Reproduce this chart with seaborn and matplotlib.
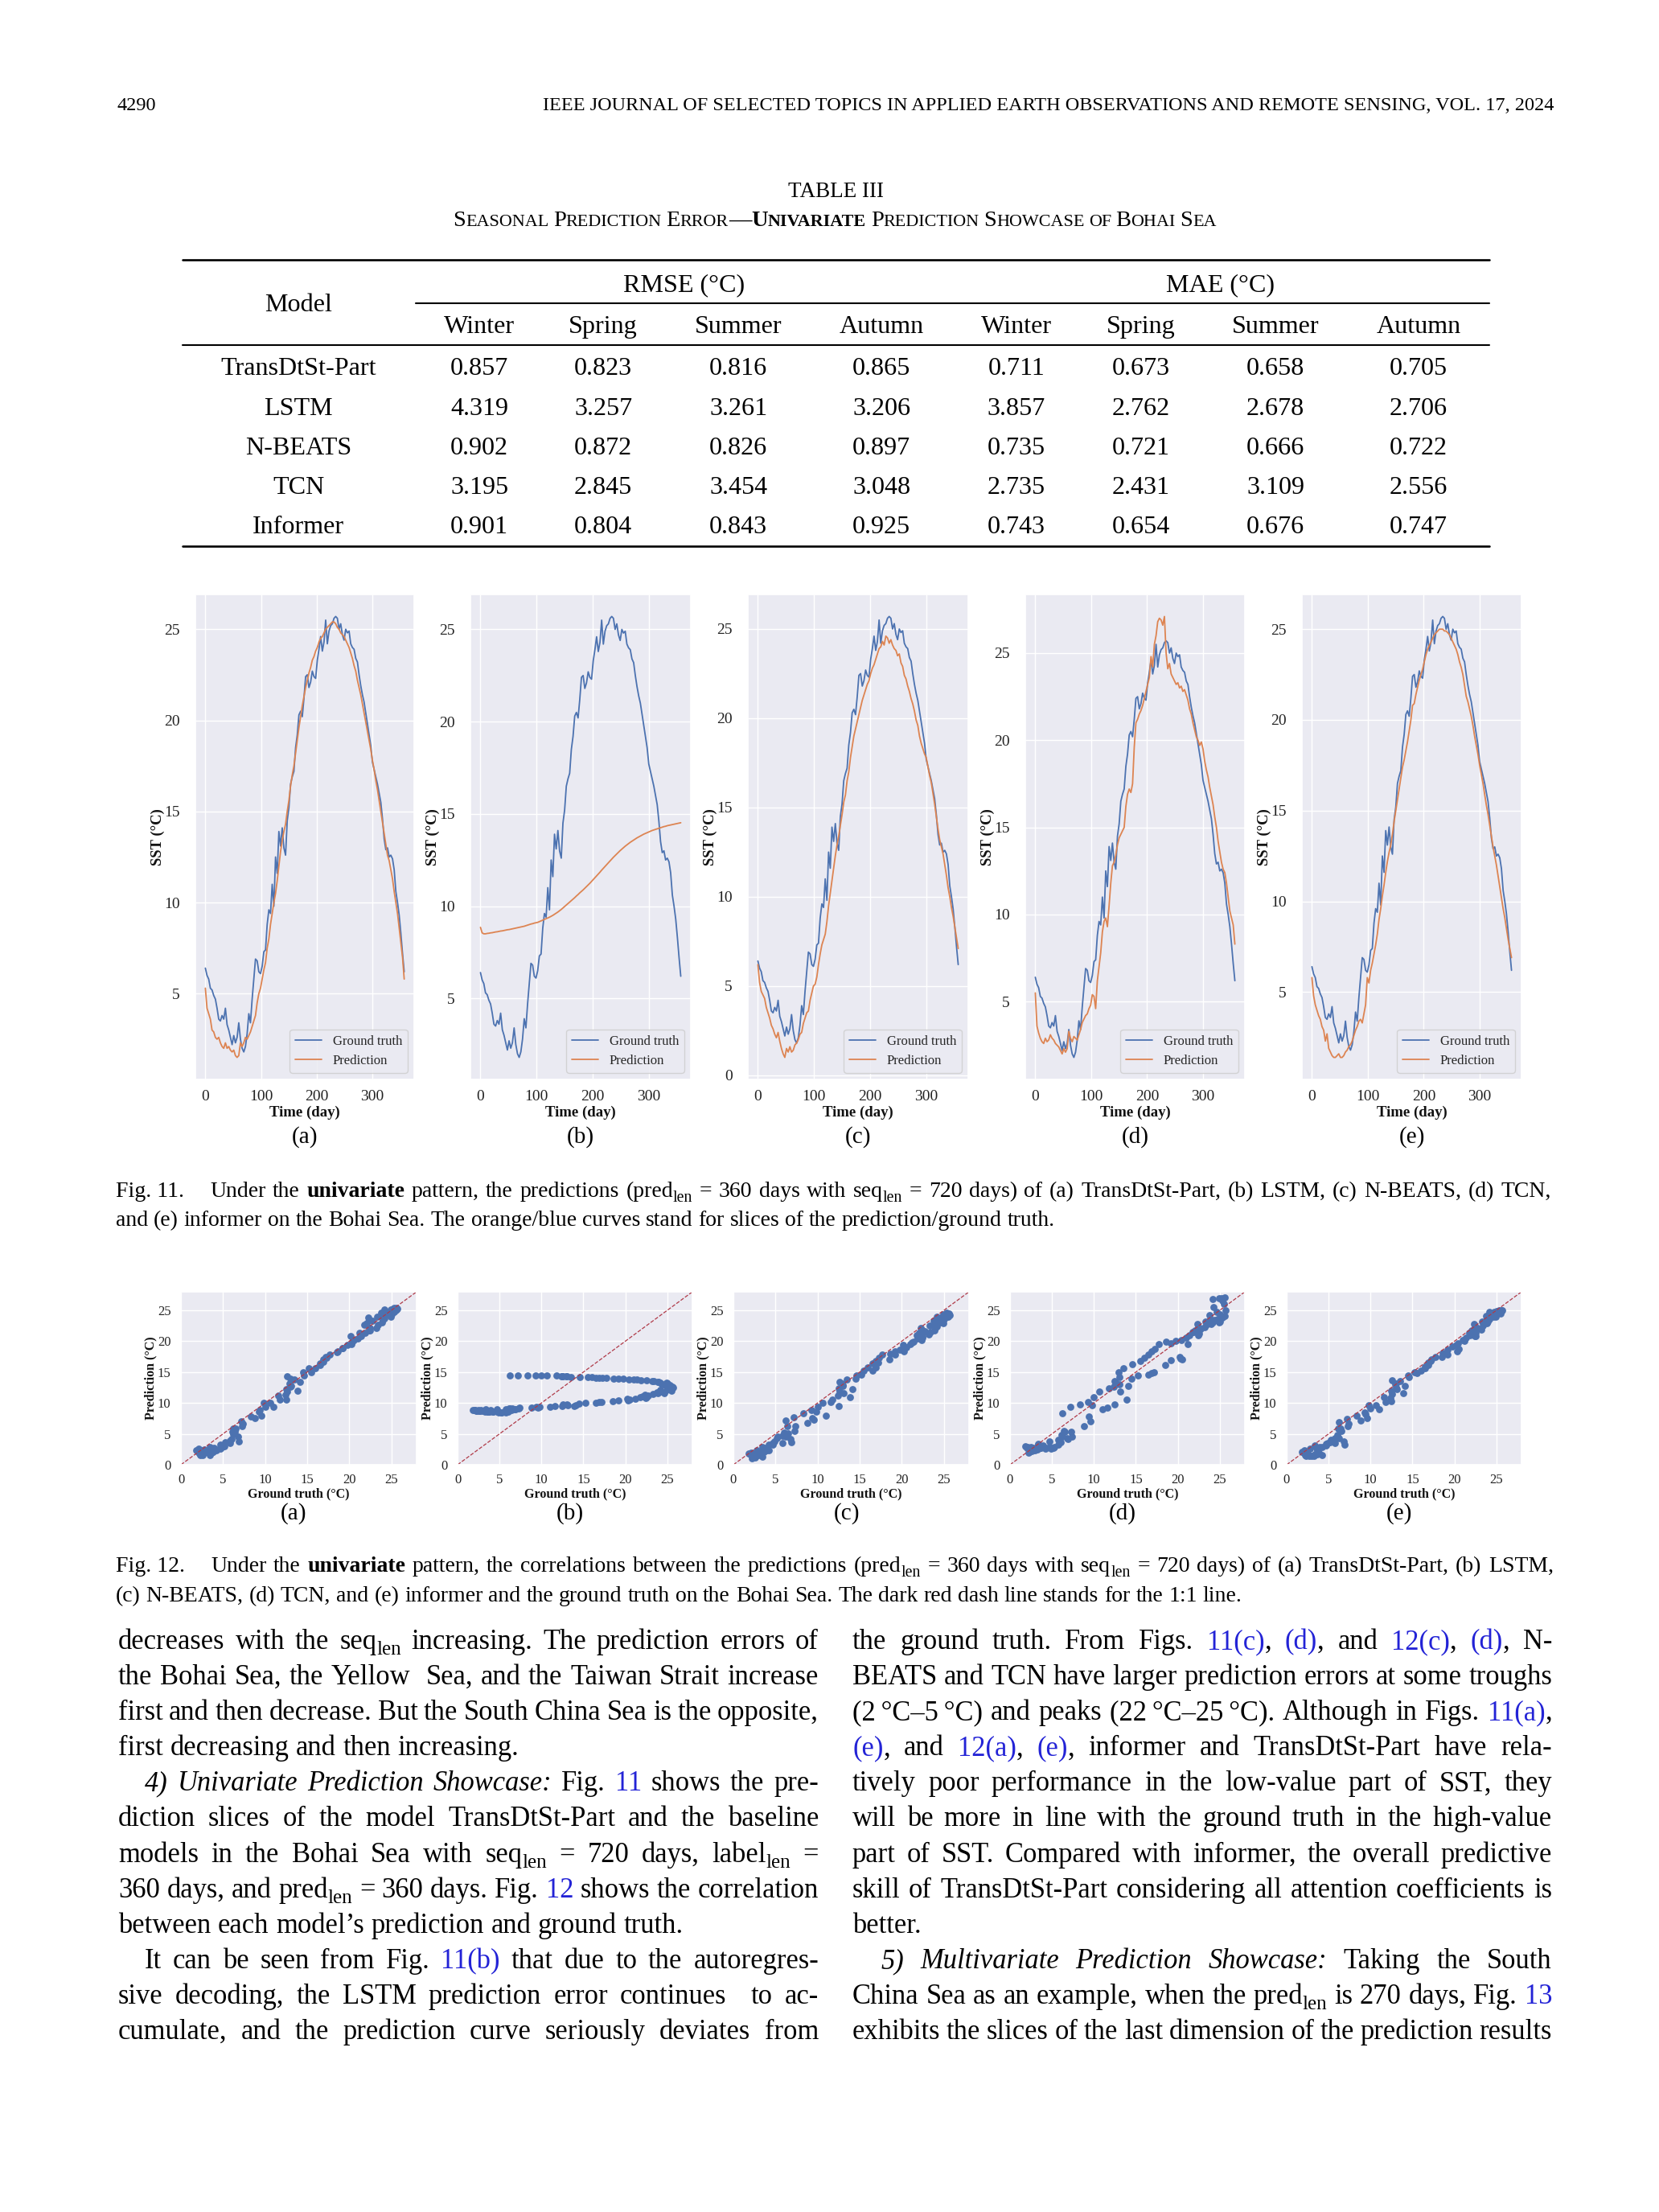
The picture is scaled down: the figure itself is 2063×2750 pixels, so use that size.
import re
import numpy as np
import matplotlib
matplotlib.use("Agg")
import matplotlib.pyplot as plt
from matplotlib.lines import Line2D
from matplotlib.ticker import MultipleLocator
import seaborn as sns

# ---------------- data ----------------
# Fig. 11 slices, read every third day of the 360-day prediction window
days = np.arange(0, 360, 3)

ground_truth = [
    6.4, 6.0, 5.8, 5.3, 5.2, 4.9, 4.7, 4.2, 3.6, 3.5,
    3.8, 3.6, 4.2, 3.3, 3.0, 2.6, 2.2, 2.7, 2.3, 2.6,
    3.4, 2.5, 2.0, 1.8, 2.1, 2.8, 3.9, 3.4, 4.7, 5.8,
    6.9, 6.8, 6.2, 6.1, 6.5, 7.3, 7.4, 8.8, 9.6, 9.4,
    11.0, 9.8, 12.5, 11.6, 13.9, 13.1, 14.1, 13.0, 12.6, 14.5,
    15.2, 16.5, 16.9, 17.2, 18.5, 19.2, 20.3, 20.5, 20.2, 21.2,
    22.4, 22.5, 21.8, 22.1, 22.7, 22.4, 22.3, 23.3, 23.9, 24.6,
    23.8, 24.3, 25.5, 24.2, 24.9, 25.2, 25.3, 25.6, 25.7, 25.6,
    25.0, 25.3, 24.7, 24.4, 25.0, 24.8, 24.9, 24.2, 24.0, 23.9,
    23.4, 23.2, 22.5, 21.9, 21.4, 21.0, 20.4, 19.8, 19.2, 18.6,
    17.7, 17.3, 16.9, 16.5, 16.0, 15.5, 14.6, 13.5, 12.9, 13.0,
    12.5, 12.6, 12.4, 11.8, 10.6, 10.0, 9.3, 8.3, 7.2, 6.2,
]

pred_transdtst = [
    5.3, 4.2, 3.9, 3.6, 3.0, 2.9, 2.6, 2.5, 2.6, 2.3,
    2.1, 2.0, 2.3, 2.0, 2.1, 1.9, 1.8, 1.9, 1.6, 1.5,
    1.6, 2.3, 2.1, 2.3, 2.6, 2.5, 2.7, 2.9, 3.2, 3.5,
    3.8, 4.5, 5.0, 5.3, 5.8, 6.3, 6.7, 7.5, 8.0, 8.8,
    9.4, 10.0, 10.5, 11.2, 12.0, 12.8, 13.4, 13.9, 14.3, 15.0,
    15.6, 16.4, 17.0, 17.5, 18.2, 18.9, 19.6, 20.2, 20.8, 21.3,
    21.8, 22.2, 22.6, 22.9, 23.3, 23.5, 23.8, 24.0, 24.3, 24.5,
    24.6, 24.8, 25.0, 25.1, 25.2, 25.3, 25.4, 25.4, 25.3, 25.1,
    25.0, 24.8, 24.7, 24.6, 24.4, 24.2, 24.0, 23.7, 23.4, 23.0,
    22.7, 22.2, 21.8, 21.4, 20.9, 20.4, 19.9, 19.4, 18.9, 18.4,
    17.8, 17.3, 16.7, 16.2, 15.6, 15.0, 14.4, 13.8, 13.2, 12.6,
    12.3, 11.8, 11.3, 10.6, 10.0, 9.4, 8.6, 7.8, 7.0, 5.8,
]

pred_lstm = [
    8.85, 8.55, 8.5, 8.5, 8.52, 8.53, 8.55, 8.56, 8.58, 8.6,
    8.61, 8.63, 8.65, 8.66, 8.68, 8.7, 8.72, 8.73, 8.75, 8.77,
    8.79, 8.81, 8.83, 8.85, 8.87, 8.89, 8.91, 8.94, 8.97, 9.0,
    9.03, 9.05, 9.08, 9.1, 9.12, 9.16, 9.2, 9.24, 9.28, 9.32,
    9.36, 9.4, 9.45, 9.5, 9.56, 9.62, 9.68, 9.75, 9.82, 9.9,
    9.98, 10.06, 10.14, 10.22, 10.3, 10.38, 10.46, 10.55, 10.63, 10.72,
    10.8, 10.88, 10.97, 11.06, 11.15, 11.24, 11.34, 11.44, 11.54, 11.64,
    11.74, 11.84, 11.95, 12.05, 12.15, 12.25, 12.35, 12.45, 12.55, 12.65,
    12.74, 12.83, 12.92, 13.01, 13.09, 13.17, 13.25, 13.32, 13.39, 13.46,
    13.52, 13.58, 13.64, 13.7, 13.75, 13.8, 13.85, 13.9, 13.94, 13.98,
    14.02, 14.06, 14.1, 14.13, 14.16, 14.19, 14.22, 14.25, 14.28, 14.31,
    14.33, 14.36, 14.38, 14.4, 14.42, 14.44, 14.46, 14.48, 14.5, 14.52,
]

pred_nbeats = [
    6.2, 5.2, 4.7, 4.5, 4.3, 3.8, 3.5, 3.2, 2.8, 2.6,
    2.3, 2.1, 2.4, 1.9, 1.5, 1.2, 1.0, 1.5, 1.3, 1.6,
    1.3, 1.4, 1.7, 1.8, 2.0, 2.3, 2.4, 2.9, 3.2, 3.5,
    3.6, 4.2, 4.6, 5.0, 5.1, 5.5, 6.2, 6.8, 7.3, 7.6,
    7.9, 8.6, 9.5, 10.2, 10.9, 11.6, 12.3, 12.9, 13.4, 14.0,
    14.6, 15.3, 15.7, 16.5, 17.0, 17.8, 18.4, 19.0, 19.4, 19.8,
    20.2, 20.6, 21.0, 21.3, 21.6, 21.9, 22.1, 22.5, 22.8, 23.0,
    23.3, 23.6, 23.9, 24.0, 24.3, 24.1, 24.6, 24.5, 24.2, 24.4,
    24.1, 23.9, 23.8, 23.5, 23.6, 23.1, 22.9, 22.4, 22.2, 21.8,
    21.5, 21.1, 20.8, 20.4, 19.9, 19.6, 19.0, 18.6, 18.3, 18.0,
    17.8, 17.3, 16.8, 16.4, 15.8, 15.2, 14.5, 13.8, 13.2, 12.8,
    12.4, 11.8, 11.2, 10.5, 10.0, 9.4, 8.9, 8.3, 7.7, 7.1,
]

pred_tcn = [
    5.5, 3.6, 3.2, 2.9, 2.7, 2.6, 2.9, 2.7, 2.8, 3.1,
    2.9, 2.8, 2.6, 2.5, 2.4, 2.2, 2.0, 2.3, 2.1, 2.3,
    3.3, 2.9, 2.7, 3.0, 2.9, 2.8, 3.1, 3.4, 3.8, 4.0,
    4.2, 4.3, 4.6, 4.8, 5.4, 5.3, 4.6, 6.2, 7.0, 7.8,
    9.0, 9.6, 9.8, 9.3, 10.5, 11.8, 12.8, 13.0, 13.4, 14.0,
    14.4, 14.6, 14.8, 15.0, 16.2, 16.9, 17.2, 17.0, 17.5, 19.6,
    21.0, 21.2, 21.5, 21.7, 22.0, 22.4, 22.8, 23.2, 23.6, 24.8,
    24.2, 25.5, 26.0, 26.8, 27.0, 26.9, 26.6, 27.1, 25.0, 24.1,
    24.4, 23.8, 23.6, 23.4, 23.2, 23.3, 23.0, 23.1, 22.8, 22.9,
    22.6, 22.3, 21.8, 21.5, 21.0, 20.6, 20.2, 20.0, 19.7, 19.9,
    19.5, 18.8, 18.3, 17.9, 17.3, 16.8, 16.3, 15.6, 15.0, 14.2,
    13.6, 13.0, 12.6, 12.4, 11.8, 11.0, 10.2, 9.8, 9.4, 8.3,
]

pred_informer = [
    5.8, 4.8, 4.3, 4.0, 3.7, 3.5, 3.1, 2.9, 2.3, 2.7,
    1.9, 1.7, 1.5, 1.4, 1.4, 1.5, 1.6, 1.4, 1.4, 1.5,
    1.7, 1.8, 2.0, 2.1, 2.3, 2.6, 2.9, 3.1, 3.4, 3.5,
    3.3, 3.8, 4.3, 5.8, 5.5, 6.2, 6.6, 7.1, 7.6, 8.2,
    9.0, 9.6, 10.3, 10.9, 11.6, 12.2, 12.7, 13.1, 13.7, 14.4,
    15.0, 15.6, 16.2, 16.8, 17.4, 17.8, 18.3, 18.8, 19.4, 20.0,
    20.8, 20.9, 21.4, 21.8, 22.2, 22.5, 22.8, 23.2, 23.6, 23.9,
    24.1, 24.3, 24.5, 24.7, 24.8, 24.9, 25.0, 25.0, 25.0, 24.9,
    24.9, 24.8, 24.7, 24.5, 24.3, 24.1, 23.9, 23.6, 23.2, 22.9,
    22.5, 21.9, 21.3, 21.0, 20.6, 20.2, 19.7, 19.1, 18.6, 18.1,
    17.5, 17.0, 16.5, 15.9, 15.3, 14.8, 14.2, 13.6, 13.0, 12.5,
    12.0, 11.4, 10.8, 10.2, 9.6, 9.1, 8.5, 7.9, 7.4, 6.9,
]

predictions = [pred_transdtst, pred_lstm, pred_nbeats, pred_tcn, pred_informer]
panel_letters = ["(a)", "(b)", "(c)", "(d)", "(e)"]

# Table III
table_models = ["TransDtSt-Part", "LSTM", "N-BEATS", "TCN", "Informer"]
seasons = ["Winter", "Spring", "Summer", "Autumn"]
rmse = [
    [0.857, 0.823, 0.816, 0.865],
    [4.319, 3.257, 3.261, 3.206],
    [0.902, 0.872, 0.826, 0.897],
    [3.195, 2.845, 3.454, 3.048],
    [0.901, 0.804, 0.843, 0.925],
]
mae = [
    [0.711, 0.673, 0.658, 0.705],
    [3.857, 2.762, 2.678, 2.706],
    [0.735, 0.721, 0.666, 0.722],
    [2.735, 2.431, 3.109, 2.556],
    [0.743, 0.654, 0.676, 0.747],
]

# ---------------- style ----------------
sns.set_theme(style="darkgrid")
SERIF = ["Liberation Serif", "DejaVu Serif"]
plt.rcParams["font.family"] = SERIF
BLUE = "#4c72b0"
ORANGE = "#dd8452"
DIAG = "#b03a48"
LINK = "#2323d6"

W, H = 2063, 2750
fig = plt.figure(figsize=(W / 100, H / 100), dpi=100, facecolor="white")
renderer = fig.canvas.get_renderer()


def wpx(artist):
    return artist.get_window_extent(renderer).width


def put(x, y, s, **kw):
    kw.setdefault("family", SERIF)
    kw.setdefault("color", "black")
    return fig.text(x / W, 1 - y / H, s, **kw)


def fit_size(s, target, **kw):
    t = put(0, 0, s, fontsize=20, **kw)
    size = 20 * target / wpx(t)
    t.remove()
    return size


def rule(x0, x1, y, lw):
    fig.add_artist(Line2D([x0 / W, x1 / W], [1 - y / H, 1 - y / H], lw=lw,
                          color="black", transform=fig.transFigure))


FRAG = re.compile(r"\[([bBis])\](.*?)\[/\]")


def split_frags(word):
    parts = FRAG.split(word)
    out = [("", parts[0])] if parts[0] else []
    for i in range(1, len(parts), 3):
        out.append((parts[i], parts[i + 1]))
        if parts[i + 2]:
            out.append(("", parts[i + 2]))
    return out


def text_line(x0, x1, yb, line, size, justify=True):
    em = size * 100 / 72
    items = []
    for word in line.split(" "):
        if word == "<sp>":
            items.append(([], em * 0.55))
            continue
        arts = []
        for tag, s in split_frags(word):
            kw = dict(fontsize=size)
            dy = 0
            if tag == "b":
                kw["color"] = LINK
            elif tag == "B":
                kw["fontweight"] = "bold"
            elif tag == "i":
                kw["fontstyle"] = "italic"
            elif tag == "s":
                kw["fontsize"] = size * 0.72
                dy = em * 0.2
            a = put(0, 0, s, va="baseline", **kw)
            arts.append((a, wpx(a), dy))
        items.append((arts, sum(w for _, w, _ in arts)))
    total = sum(w for _, w in items)
    gap = em * 0.25
    if justify and len(items) > 1:
        gap = max((x1 - x0 - total) / (len(items) - 1), em * 0.12)
    x = x0
    for arts, w in items:
        cx = x
        for a, aw, dy in arts:
            a.set_position((cx / W, 1 - (yb + dy) / H))
            cx += aw
        x += w + gap


def smallcaps_line(xc, yb, words, target):
    arts = [[(put(0, 0, s, fontweight=wt, va="baseline"), f) for s, f, wt in word]
            for word in words]

    def layout(size):
        for word in arts:
            for a, f in word:
                a.set_fontsize(size * f)
        widths = [[wpx(a) for a, _ in word] for word in arts]
        space = size * 0.78 * 100 / 72 * 0.25
        return widths, space, sum(map(sum, widths)) + space * (len(arts) - 1)

    _, _, t20 = layout(20)
    widths, space, total = layout(20 * target / t20)
    x = xc - total / 2
    for word, ws in zip(arts, widths):
        for (a, _), w in zip(word, ws):
            a.set_position((x / W, 1 - yb / H))
            x += w
        x += space


# ---------------- header ----------------
journal = "IEEE JOURNAL OF SELECTED TOPICS IN APPLIED EARTH OBSERVATIONS AND REMOTE SENSING, VOL. 17, 2024"
head_size = fit_size(journal, 1258)
put(145, 137, "4290", fontsize=head_size, va="baseline")
put(1932, 137, journal, fontsize=head_size, va="baseline", ha="right")

# ---------------- table ----------------
title_size = fit_size("TABLE III", 119)
put(1040, 245, "TABLE III", fontsize=title_size, va="baseline", ha="center")
n, b = "normal", "bold"
smallcaps_line(1038, 281, [
    [("S", 1, n), ("EASONAL", .78, n)],
    [("P", 1, n), ("REDICTION", .78, n)],
    [("E", 1, n), ("RROR", .78, n), ("\u2014", 1, b), ("U", 1, b), ("NIVARIATE", .78, b)],
    [("P", 1, n), ("REDICTION", .78, n)],
    [("S", 1, n), ("HOWCASE", .78, n)],
    [("OF", .78, n)],
    [("B", 1, n), ("OHAI", .78, n)],
    [("S", 1, n), ("EA", .78, n)],
], 950)

tab_size = fit_size("TransDtSt-Part", 193)
rule(227, 1852, 323, 1.9)
rule(517, 1852, 377, 1.5)
rule(227, 1852, 429, 1.5)
rule(227, 1852, 679, 1.9)
col_x = [596, 750, 918, 1096, 1264, 1419, 1586, 1764]
row_y = [466, 516, 565, 614, 663]
put(371, 387, "Model", fontsize=tab_size, va="baseline", ha="center")
put(851, 362, "RMSE (\u00b0C)", fontsize=tab_size, va="baseline", ha="center")
put(1518, 362, "MAE (\u00b0C)", fontsize=tab_size, va="baseline", ha="center")
for cx, season in zip(col_x, seasons + seasons):
    put(cx, 414, season, fontsize=tab_size, va="baseline", ha="center")
for ry, model, r_row, m_row in zip(row_y, table_models, rmse, mae):
    put(371, ry, model, fontsize=tab_size, va="baseline", ha="center")
    for cx, v in zip(col_x, r_row + m_row):
        put(cx, ry, f"{v:.3f}", fontsize=tab_size, va="baseline", ha="center")

# ---------------- captions / body sizes ----------------
cap_size = fit_size("and (e) informer on the Bohai Sea. The orange/blue curves stand for "
                    "slices of the prediction/ground truth.", 1166)
body_size = fit_size("between each model\u2019s prediction and ground truth.", 701)


def add_ax(x0, x1, y0, y1):
    return fig.add_axes([x0 / W, 1 - y1 / H, (x1 - x0) / W, (y1 - y0) / H])


# ---------------- Fig. 11: prediction slices ----------------
fig11_x = [(243, 515), (585, 859), (930, 1204), (1275, 1548), (1619, 1892)]
f11_top, f11_bot = 739, 1342
for (x0, x1), pred, letter in zip(fig11_x, predictions, panel_letters):
    ax = add_ax(x0, x1, f11_top, f11_bot)
    sns.lineplot(x=days, y=ground_truth, ax=ax, color=BLUE, lw=1.3, label="Ground truth")
    sns.lineplot(x=days, y=pred, ax=ax, color=ORANGE, lw=1.3, label="Prediction")
    ax.xaxis.set_major_locator(MultipleLocator(100))
    ax.yaxis.set_major_locator(MultipleLocator(5))
    ax.tick_params(axis="x", labelsize=14, pad=3, colors="#222222")
    ax.tick_params(axis="y", labelsize=14, pad=8, colors="#222222")
    ax.set_xlabel("Time (day)", fontsize=13.5, fontweight="bold", color="#111111")
    ax.set_ylabel("SST (\u00b0C)", fontsize=13.5, fontweight="bold", color="#111111")
    ax.xaxis.set_label_coords(0.5, -41 / (f11_bot - f11_top))
    ax.yaxis.set_label_coords(-47 / (x1 - x0), 0.5)
    ax.xaxis.label.set_va("center")
    ax.yaxis.label.set_va("center")
    ax.legend(loc="lower right", fontsize=12)
    put((x0 + x1) / 2, 1421, letter, fontsize=cap_size * 1.05, va="baseline", ha="center")

text_line(144, 1929, 1488,
          "Fig.\u00a011. <sp> Under the [B]univariate[/] pattern, the predictions (pred[s]len[/] = 360 days "
          "with seq[s]len[/] = 720 days) of (a) TransDtSt-Part, (b) LSTM, (c) N-BEATS, (d) TCN,", cap_size)
text_line(144, 1929, 1524,
          "and (e) informer on the Bohai Sea. The orange/blue curves stand for slices of the "
          "prediction/ground truth.", cap_size, justify=False)

# ---------------- Fig. 12: correlation scatter ----------------
fig12_x = [(225, 518), (569, 861), (912, 1205), (1256, 1548), (1600, 1892)]
f12_top, f12_bot = 1606, 1821
for (x0, x1), pred, letter in zip(fig12_x, predictions, panel_letters):
    ax = add_ax(x0, x1, f12_top, f12_bot)
    sns.scatterplot(x=ground_truth, y=pred, ax=ax, color=BLUE, s=40, linewidth=0)
    ax.axline((0, 0), slope=1, color=DIAG, ls="--", lw=0.9)
    ax.set_xlim(0, 28)
    ax.set_ylim(0, 28)
    ax.xaxis.set_major_locator(MultipleLocator(5))
    ax.yaxis.set_major_locator(MultipleLocator(5))
    ax.tick_params(axis="x", labelsize=12, pad=2, colors="#222222")
    ax.tick_params(axis="y", labelsize=12, pad=3, colors="#222222")
    ax.set_xlabel("Ground truth (\u00b0C)", fontsize=11.5, fontweight="bold", color="#111111")
    ax.set_ylabel("Prediction (\u00b0C)", fontsize=11.5, fontweight="bold", color="#111111")
    ax.xaxis.set_label_coords(0.5, -36 / (f12_bot - f12_top))
    ax.yaxis.set_label_coords(-38 / (x1 - x0), 0.5)
    ax.xaxis.label.set_va("center")
    ax.yaxis.label.set_va("center")
    put((x0 + x1) / 2 - 6, 1889, letter, fontsize=cap_size * 1.05, va="baseline", ha="center")

text_line(144, 1932, 1954,
          "Fig.\u00a012. <sp> Under the [B]univariate[/] pattern, the correlations between the predictions "
          "(pred[s]len[/] = 360 days with seq[s]len[/] = 720 days) of (a) TransDtSt-Part, (b) LSTM,", cap_size)
text_line(144, 1932, 1991,
          "(c) N-BEATS, (d) TCN, and (e) informer and the ground truth on the Bohai Sea. The dark red "
          "dash line stands for the 1:1 line.", cap_size, justify=False)

# ---------------- body text ----------------
left_col = [
    (0, True, "decreases with the seq[s]len[/] increasing. The prediction errors of"),
    (0, True, "the Bohai Sea, the Yellow  Sea, and the Taiwan Strait increase"),
    (0, True, "first and then decrease. But the South China Sea is the opposite,"),
    (0, False, "first decreasing and then increasing."),
    (33, True, "[i]4)[/] [i]Univariate[/] [i]Prediction[/] [i]Showcase:[/] Fig. [b]11[/] shows the pre-"),
    (0, True, "diction slices of the model TransDtSt-Part and the baseline"),
    (0, True, "models in the Bohai Sea with seq[s]len[/] = 720 days, label[s]len[/] ="),
    (0, True, "360 days, and pred[s]len[/] = 360 days. Fig. [b]12[/] shows the correlation"),
    (0, False, "between each model\u2019s prediction and ground truth."),
    (33, True, "It can be seen from Fig. [b]11(b)[/] that due to the autoregres-"),
    (0, True, "sive decoding, the LSTM prediction error continues  to ac-"),
    (0, True, "cumulate, and the prediction curve seriously deviates from"),
]
right_col = [
    (0, True, "the ground truth. From Figs. [b]11(c)[/], [b](d)[/], and [b]12(c)[/], [b](d)[/], N-"),
    (0, True, "BEATS and TCN have larger prediction errors at some troughs"),
    (0, True, "(2\u2009\u00b0C\u20135\u2009\u00b0C) and peaks (22\u2009\u00b0C\u201325\u2009\u00b0C). "
              "Although in Figs. [b]11(a)[/],"),
    (0, True, "[b](e)[/], and [b]12(a)[/], [b](e)[/], informer and TransDtSt-Part have rela-"),
    (0, True, "tively poor performance in the low-value part of SST, they"),
    (0, True, "will be more in line with the ground truth in the high-value"),
    (0, True, "part of SST. Compared with informer, the overall predictive"),
    (0, True, "skill of TransDtSt-Part considering all attention coefficients is"),
    (0, False, "better."),
    (35, True, "[i]5)[/] [i]Multivariate[/] [i]Prediction[/] [i]Showcase:[/] Taking the South"),
    (0, True, "China Sea as an example, when the pred[s]len[/] is 270 days, Fig. [b]13[/]"),
    (0, True, "exhibits the slices of the last dimension of the prediction results"),
]
for (cx0, cx1), lines in [((147, 1018), left_col), ((1060, 1930), right_col)]:
    for k, (indent, just, line) in enumerate(lines):
        text_line(cx0 + indent, cx1, 2050 + 44.1 * k, line, body_size, justify=just)

fig.savefig("out.png", dpi=100, facecolor="white")
